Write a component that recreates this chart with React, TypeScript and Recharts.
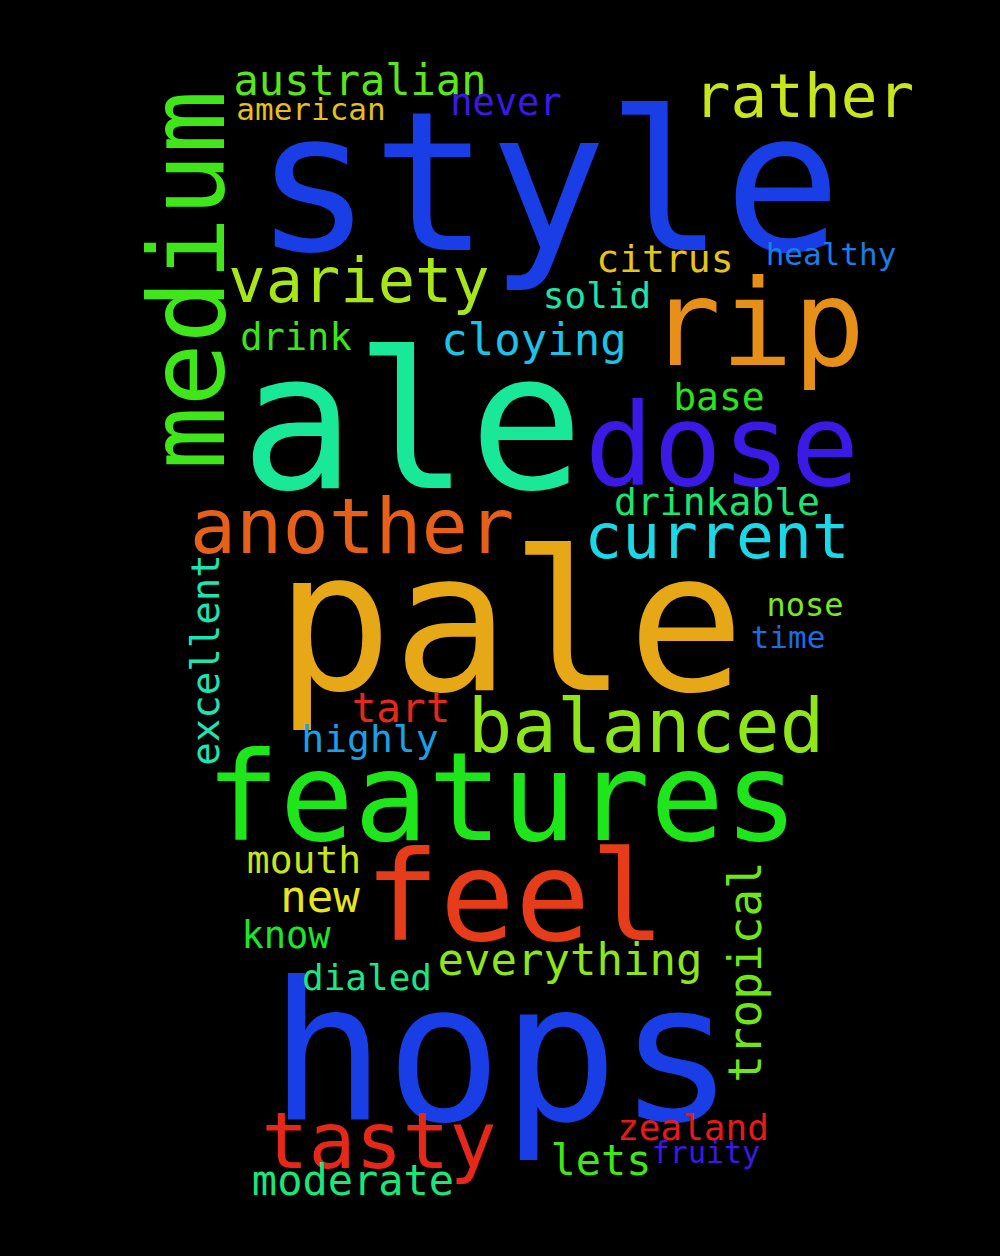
import React from 'react';
import { ScatterChart, Scatter, XAxis, YAxis } from 'recharts';

document.body.style.margin = '0';

// word, centre x, baseline y (or centre y for vertical words), font size, colour, vertical
const words = ['style', 'ale', 'pale', 'hops', 'features', 'feel', 'medium', 'rip', 'dose', 'another', 'current', 'balanced', 'variety', 'rather', 'tasty', 'australian', 'american', 'never', 'citrus', 'healthy', 'solid', 'cloying', 'drink', 'base', 'drinkable', 'excellent', 'nose', 'time', 'tart', 'highly', 'mouth', 'new', 'know', 'dialed', 'everything', 'tropical', 'zealand', 'fruity', 'lets', 'moderate'];
const xs = [548, 412, 510, 502, 502, 515, 188, 757, 722, 352, 717, 646, 359, 804, 379, 360, 311, 506, 665, 831, 597, 534, 296, 719, 717, 205, 805, 788, 401, 370, 304, 320, 286, 367, 570, 745, 693, 706, 601, 353];
const ys = [250, 488, 690, 1120, 840, 940, 280, 365, 485, 553, 558, 752, 302, 117, 1168, 95, 120, 115, 272, 265, 308, 355, 350, 410, 515, 660, 616, 648, 722, 752, 873, 912, 948, 990, 975, 972, 1140, 1163, 1175, 1195];
const sizes = [195, 190, 195, 193, 123, 125, 105, 120, 114, 77, 63, 74, 62, 61, 78, 42, 31, 37, 38, 31, 36, 44, 37, 38, 38, 39, 32, 31, 41, 38, 38, 44, 37, 36, 44, 46, 36, 30, 42, 42];
const colors = ['#1a3ee6', '#1ae899', '#e6a817', '#1a3ee6', '#1ee61a', '#e63c1a', '#3ee61a', '#e6901a', '#3c1ae6', '#e6601a', '#1ad8e6', '#8ee61a', '#a8e61a', '#c8e61a', '#e6281a', '#5ae61a', '#e6c01a', '#3a1ae6', '#e6c41a', '#1a7ee6', '#1ae6a8', '#1ac4e6', '#3ae61a', '#28e61a', '#1ae670', '#1ae6b4', '#7ee61a', '#1a6ee6', '#e6281a', '#1aa0e6', '#c8e61a', '#e6e61a', '#1ae62a', '#1ae68a', '#8ee61a', '#6ee61a', '#e61a1a', '#3a1ae6', '#3ee61a', '#1ae67a'];
const vertical = ['medium', 'excellent', 'tropical'];

const data = words.map((w, i) => ({ word: w, x: xs[i], y: ys[i], size: sizes[i], color: colors[i], vert: vertical.includes(w) }));

const Word = (props: any) => {
  const { cx, cy, payload } = props;
  if (payload.vert) {
    return (
      <text x={cx} y={cy} textAnchor="middle" dominantBaseline="central" fontSize={payload.size} fill={payload.color}
        fontFamily="DejaVu Sans Mono" transform={`rotate(-90 ${cx} ${cy})`}>{payload.word}</text>
    );
  }
  return (
    <text x={cx} y={cy} textAnchor="middle" fontSize={payload.size} fill={payload.color} fontFamily="DejaVu Sans Mono">{payload.word}</text>
  );
};

export default function App() {
  return (
    <div style={{ width: 1000, height: 1256, background: '#000' }}>
      <ScatterChart width={1000} height={1256} margin={{ top: 0, right: 0, bottom: 0, left: 0 }}>
        <XAxis type="number" dataKey="x" domain={[0, 1000]} hide />
        <YAxis type="number" dataKey="y" domain={[0, 1256]} reversed hide />
        <Scatter data={data} shape={<Word />} isAnimationActive={false} />
      </ScatterChart>
    </div>
  );
}
